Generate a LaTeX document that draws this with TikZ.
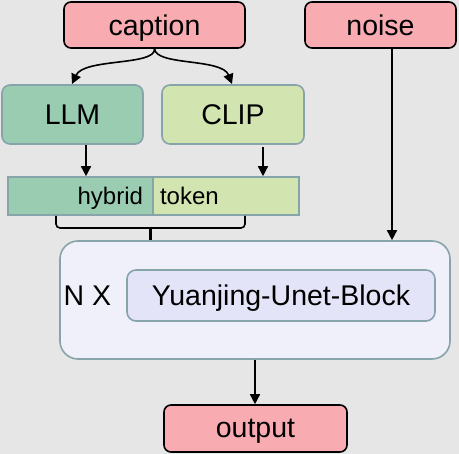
\documentclass[tikz,border=0pt]{standalone}
\usepackage{fontspec}
\setmainfont{Liberation Sans}
\usetikzlibrary{arrows.meta}
\definecolor{bgray}{RGB}{230,230,230}
\definecolor{pinkfill}{RGB}{248,172,178}
\definecolor{llmfill}{RGB}{154,204,178}
\definecolor{clipfill}{RGB}{210,228,176}
\definecolor{edgeblue}{RGB}{134,164,170}
\definecolor{outerfill}{RGB}{240,240,250}
\definecolor{innerfill}{RGB}{228,228,248}
\tikzset{
  inbox/.style={draw=black, line width=1.6pt, fill=pinkfill, rounded corners=7pt,
    inner sep=0pt, text depth=0pt, font=\fontsize{28.5}{32}\selectfont},
  encbox/.style={draw=edgeblue, line width=1.6pt, rounded corners=8pt,
    inner sep=0pt, text depth=0pt, font=\fontsize{28.5}{32}\selectfont},
  tokbox/.style={draw=edgeblue, line width=1.6pt, inner sep=0pt, text depth=0pt,
    minimum height=38pt, font=\fontsize{24}{28}\selectfont},
  arr/.style={-{Triangle[length=10pt,width=10pt]}, line width=1.6pt}
}
\begin{document}
\begin{tikzpicture}[x=1pt, y=-1pt]
% background
\fill[bgray] (0,0) rectangle (459,454);
\useasboundingbox (0,0) rectangle (459,454);
% inputs
\node[inbox, minimum width=181pt, minimum height=46pt] (caption) at (154.5,25) {caption};
\node[inbox, minimum width=151pt, minimum height=46pt] (noise) at (380.5,25) {noise};
% encoders
\node[encbox, fill=llmfill, minimum width=141pt, minimum height=59pt] (llm) at (72.5,114.5) {LLM};
\node[encbox, fill=clipfill, minimum width=142pt, minimum height=59pt] (clip) at (233,114.5) {CLIP};
% hybrid token
\node[tokbox, fill=llmfill, text width=125pt, inner xsep=10pt, align=right] (hybrid) at (80.5,196) {hybrid};
\node[tokbox, fill=clipfill, text width=132pt, inner xsep=7pt, align=left] (token) at (226,196) {token};
% unet
\node[draw=edgeblue, line width=1.6pt, fill=outerfill, rounded corners=18pt,
  minimum width=390pt, minimum height=118pt] (unet) at (255,300) {};
\node[encbox, fill=innerfill, rounded corners=9pt, minimum width=308pt, minimum height=51pt] (block) at (281,295.5) {Yuanjing-Unet-Block};
\node[font=\fontsize{28.5}{32}\selectfont, inner sep=0pt, text depth=0pt] (nx) at (87.5,296) {N X};
% output
\node[inbox, minimum width=183pt, minimum height=47pt] (output) at (255.5,428.5) {output};
% arrows
\coordinate (llmin) at (72,84);
\coordinate (clipin) at (232,84);
\draw[arr] (caption.south) .. controls (156,66) and (84,58) .. (llmin);
\draw[arr] (caption.south) .. controls (156,66) and (222,58) .. (clipin);
\draw[arr] (llm.south -| 86,0) -- (hybrid.north -| 86,0);
\draw[arr] (263,147) -- (token.north -| 263,0);
\draw[arr] (noise.south -| 392,0) -- (unet.north -| 392,0);
\draw[arr] (unet.south -| 255,0) -- (output.north -| 255,0);
% brace
\draw[line width=1.6pt, rounded corners=4pt] (hybrid.south -| 56,0) -- (56,228) -- (245,228) -- (token.south -| 245,0);
\draw[line width=3pt] (150,227) -- (unet.north -| 150,0);
\end{tikzpicture}
\end{document}
